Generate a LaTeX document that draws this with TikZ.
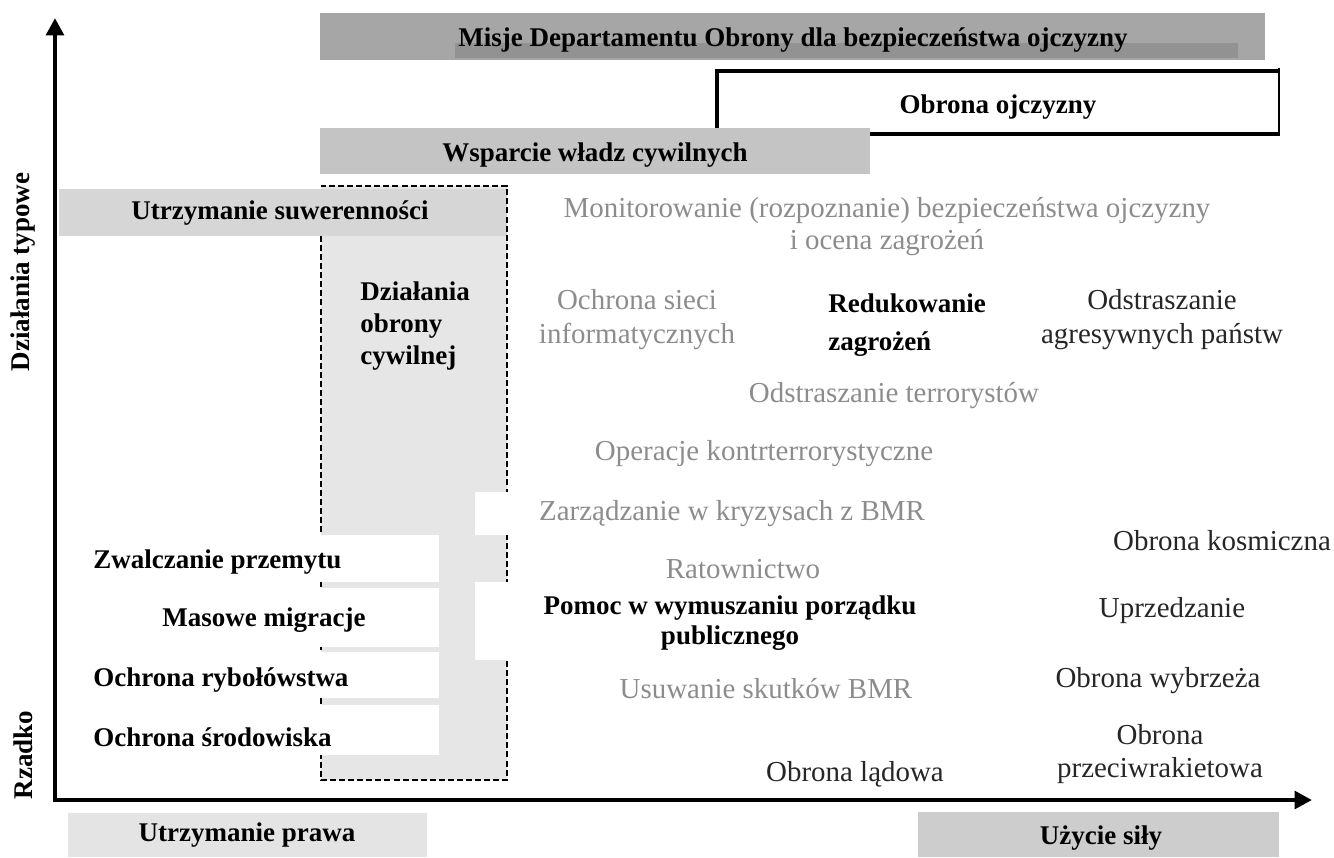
\documentclass[tikz,border=0pt]{standalone}
\usepackage{fontspec}
\setmainfont{Liberation Serif}
\usetikzlibrary{arrows.meta}

\definecolor{bandMission}{HTML}{A6A6A6}
\definecolor{bandMissionLow}{HTML}{929292}
\definecolor{bandSupport}{HTML}{C4C4C4}
\definecolor{bandSovereign}{HTML}{D6D6D6}
\definecolor{civilFill}{HTML}{E6E6E6}
\definecolor{bandLaw}{HTML}{E4E4E4}
\definecolor{bandForce}{HTML}{CDCDCD}

\begin{document}
\begin{tikzpicture}[x=0.75pt,y=-0.75pt,
  lblb/.style={font=\bfseries\fontsize{20.25}{24}\selectfont, inner sep=0pt, text=black},
  lblr/.style={font=\fontsize{21.7}{25}\selectfont, inner sep=0pt, text=black!85},
  lblg/.style={font=\fontsize{21.7}{25}\selectfont, inner sep=0pt, text=black!45},
  axisline/.style={line width=3.6pt, {Triangle[length=13pt,width=13pt]}-{Triangle[length=13pt,width=13pt]}},
  civilborder/.style={line width=1.1pt, dash pattern=on 4.5pt off 2.3pt},
]
\useasboundingbox (0,0) rectangle (1334,857);

% mission band
\fill[bandMission] (320,13) rectangle (1265,60);
\fill[bandMissionLow] (455,43) rectangle (1238,58);

% homeland defence box (partly hidden by the support band)
\fill[white] (717,70) rectangle (1279,134);
\draw[line width=3.6pt] (1279,71) -- (717,71) -- (717,134) -- (1279,134);
\draw[line width=2pt] (1279,68) -- (1279,136);

% support to civil authorities band
\fill[bandSupport] (320,128) rectangle (870,174);

% civil defence area
\fill[civilFill] (321,186) rectangle (507,780);
% sovereignty band
\fill[bandSovereign] (59,189) rectangle (507,236);
\draw[civilborder] (321,236) -- (321,780) -- (507,780) -- (507,186) -- (321,186);

% white cut-outs for the law enforcement rows
\fill[white] (300,535) rectangle (439,582);
\fill[white] (300,588) rectangle (439,647);
\fill[white] (300,652) rectangle (439,698);
\fill[white] (300,705) rectangle (439,755);
\fill[white] (475,492) rectangle (512,535);
\fill[white] (475,582) rectangle (512,660);

% bottom bands
\fill[bandLaw] (68,813) rectangle (427,857);
\fill[bandForce] (918,812) rectangle (1279,857);

% axes
\coordinate (ytop) at (55,18);
\coordinate (orig) at (55,800);
\coordinate (xend) at (1312,800);
\draw[axisline] (ytop) -- (orig) -- (xend);

% bold labels
\node[lblb] (misje) at (793,40) {Misje Departamentu Obrony dla bezpieczeństwa ojczyzny};
\node[lblb] (ojczyzna) at (998,107) {Obrona ojczyzny};
\node[lblb] (wsparcie) at (595,155) {Wsparcie władz cywilnych};
\node[lblb] (suwer) at (280,213) {Utrzymanie suwerenności};
\node[lblb, anchor=west, align=left, font=\bfseries\fontsize{20.25}{24}\selectfont] (obrcyw) at (360,326) {Działania\\obrony\\cywilnej};
\node[lblb, anchor=west, align=left, font=\bfseries\fontsize{20.25}{28.5}\selectfont] (reduk) at (828,325) {Redukowanie\\zagrożeń};
\node[lblb, align=center, font=\bfseries\fontsize{20.25}{22.5}\selectfont] (pomoc) at (730,623) {Pomoc w wymuszaniu porządku\\publicznego};
\node[lblb, anchor=west] (przemyt) at (93,562) {Zwalczanie przemytu};
\node[lblb] (migracje) at (264,620) {Masowe migracje};
\node[lblb, anchor=west] (rybol) at (93,680) {Ochrona rybołówstwa};
\node[lblb, anchor=west] (srodow) at (93,737) {Ochrona środowiska};
\node[lblb] (prawo) at (247,835) {Utrzymanie prawa};
\node[lblb] (sila) at (1101,838) {Użycie siły};
\node[lblb, rotate=90] (typowe) at (23,272) {Działania typowe};
\node[lblb, rotate=90] (rzadko) at (23,755) {Rzadko};

% regular labels
\node[lblg, align=center, font=\fontsize{21.7}{24}\selectfont] (monit) at (887,227) {Monitorowanie (rozpoznanie) bezpieczeństwa ojczyzny\\i ocena zagrożeń};
\node[lblg, align=center, font=\fontsize{21.7}{25.5}\selectfont] (sieci) at (637,320) {Ochrona sieci\\informatycznych};
\node[lblr, align=center, font=\fontsize{21.7}{25.5}\selectfont] (agres) at (1162,320) {Odstraszanie\\agresywnych państw};
\node[lblg] (terror) at (894,396) {Odstraszanie terrorystów};
\node[lblg] (kontr) at (764,454) {Operacje kontrterrorystyczne};
\node[lblg] (kryzys) at (732,514) {Zarządzanie w kryzysach z BMR};
\node[lblr] (kosm) at (1222,541) {Obrona kosmiczna};
\node[lblg] (ratow) at (743,569) {Ratownictwo};
\node[lblr] (uprz) at (1172,611) {Uprzedzanie};
\node[lblr] (wybrz) at (1158,681) {Obrona wybrzeża};
\node[lblg] (usuw) at (766,689) {Usuwanie skutków BMR};
\node[lblr, align=center, font=\fontsize{21.7}{25}\selectfont] (rakiet) at (1160,754) {Obrona\\przeciwrakietowa};
\node[lblr] (ladowa) at (855,774) {Obrona lądowa};
\end{tikzpicture}
\end{document}
